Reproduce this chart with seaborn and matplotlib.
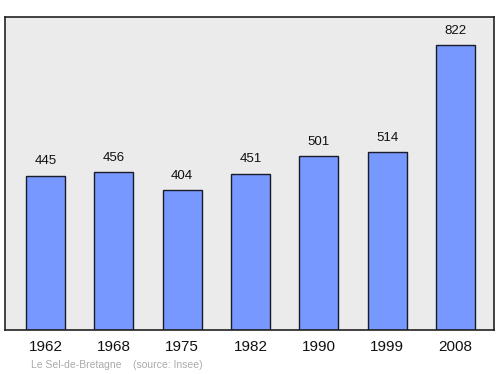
import matplotlib
matplotlib.use("Agg")
import matplotlib.pyplot as plt
import seaborn as sns
import pandas as pd

years = ["1962", "1968", "1975", "1982", "1990", "1999", "2008"]
population = [445, 456, 404, 451, 501, 514, 822]

df = pd.DataFrame({"year": years, "pop": population})

sns.set_style("white")
plt.rcParams['font.family'] = ['Liberation Sans', 'DejaVu Sans']

fig = plt.figure(figsize=(5, 3.74), dpi=100)
ax = fig.add_axes([5/500, 1 - 330/374, 489/500, 313/374])
ax.set_facecolor("#ebebeb")

sns.barplot(data=df, x="year", y="pop", color="#7799ff", saturation=1,
            width=0.57, edgecolor="#1a1a2a", linewidth=1, ax=ax)

for i, v in enumerate(population):
    ax.text(i, v + 24, str(v), ha="center", va="bottom", fontsize=9.5, color="#111111")

ax.set_xlim(-0.593, 6.563)
ax.set_ylim(0, 903)
ax.set_yticks([])
ax.set_xlabel("")
ax.set_ylabel("")
ax.tick_params(axis="x", length=0, labelsize=11, pad=7, colors="#111111")
for s in ax.spines.values():
    s.set_color("#222222")
    s.set_linewidth(1.2)

fig.text(31/500, 1 - 365/374, "Le Sel-de-Bretagne    (source: Insee)", fontsize=7.5,
         color="#aaaaaa", ha="left", va="center")

fig.savefig("out.png", dpi=100)
